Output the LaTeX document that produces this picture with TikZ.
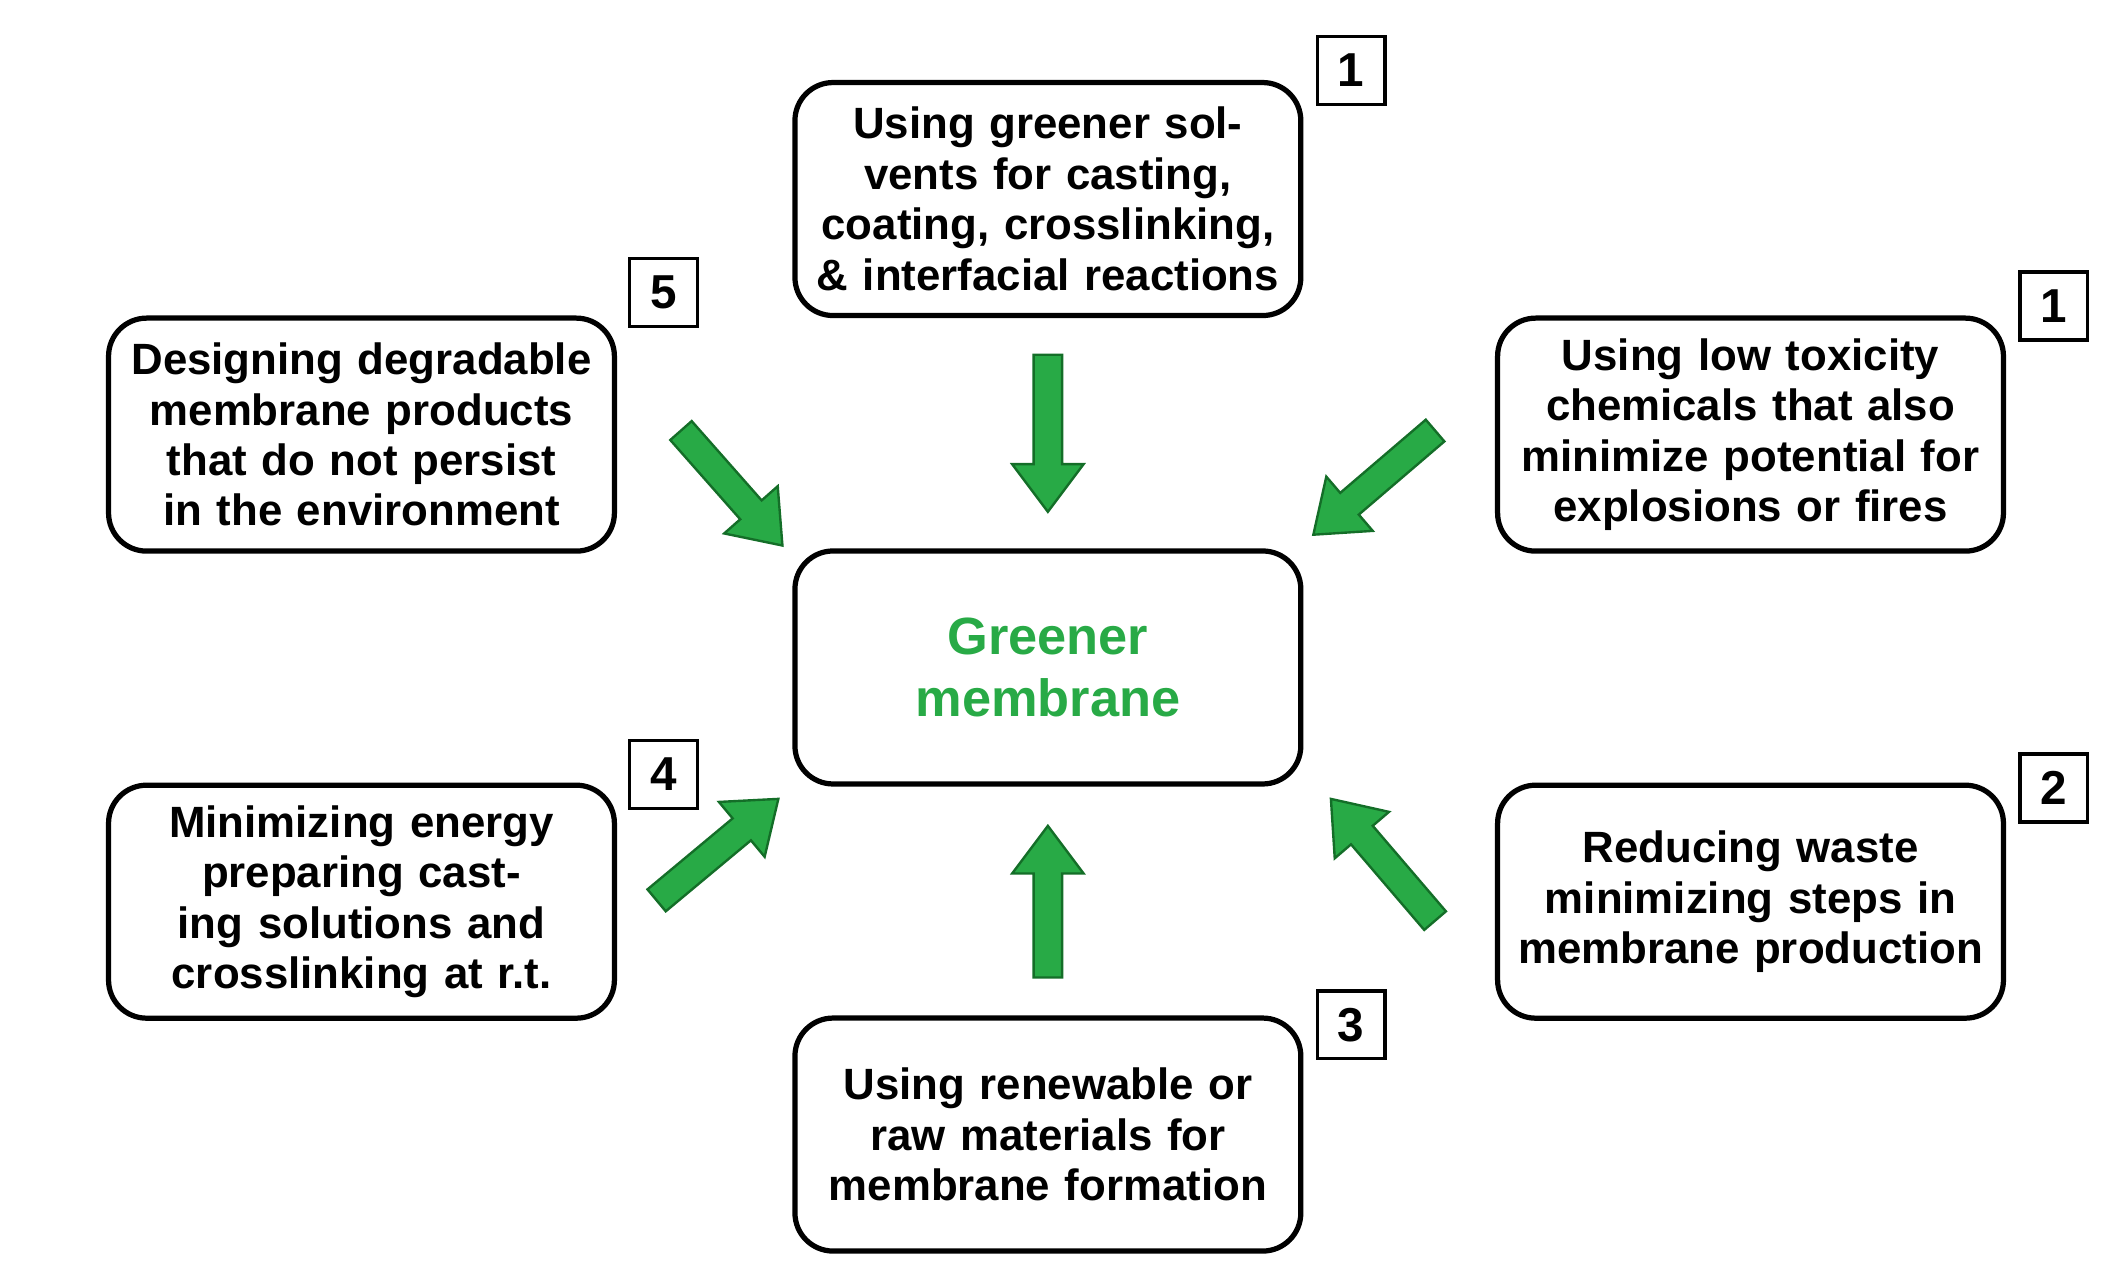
\documentclass[tikz,border=0pt]{standalone}
\usepackage{fontspec}
\setmainfont{Liberation Sans}
\usetikzlibrary{arrows.meta,calc}
\definecolor{gm}{RGB}{40,170,70}
\definecolor{gmd}{RGB}{20,110,40}
\begin{document}
\begin{tikzpicture}[x=0.01cm,y=-0.01cm,
 box/.style={draw,line width=1.1pt,rounded corners=8pt,minimum width=3.71cm,minimum height=1.72cm,text width=3.5cm,align=center,font=\bfseries\fontsize{9.2}{10.6}\selectfont},
 num/.style={draw,line width=0.7pt,minimum size=0.5cm,inner sep=0pt,font=\bfseries\fontsize{10}{12}\selectfont},
 arr/.style={draw=gmd,line width=0.5pt,fill=gm}]
\useasboundingbox (0,0) rectangle (1560,950);
\node[box] (t) at (774,147) {Using greener solvents for casting, coating, crosslinking, \& interfacial reactions};
\node[box] (lt) at (267,321) {Designing degradable membrane products that do not persist in the environment};
\node[box] (rt) at (1293,321) {Using low toxicity chemicals that also minimize potential for explosions or fires};
\node[box,text=gm,font=\bfseries\fontsize{11}{13}\selectfont] (c) at (774,493) {Greener membrane};
\node[box] (lb) at (267,666) {Minimizing energy preparing casting solutions and crosslinking at r.t.};
\node[box] (rb) at (1293,666) {Reducing waste minimizing steps in membrane production};
\node[box] (b) at (774,838) {Using renewable or raw materials for membrane formation};
\node[num] (n1) at (998,52) {1};
\node[num] (n5) at (490,216) {5};
\node[num] (n1b) at (1517,226) {1};
\node[num] (n4) at (490,572) {4};
\node[num] (n2) at (1517,582) {2};
\node[num] (n3) at (998,757) {3};
\foreach \sx/\sy/\ex/\ey in {774/262/774/378, 503/318/578/403, 1060/318/970/395, 485/665/575/590, 774/722/774/610, 1060/680/983/590}{
 \coordinate (s) at (\sx,\sy);
 \coordinate (e) at (\ex,\ey);
 \draw[arr] let \p1=(s), \p2=(e), \n1={atan2(\y2-\y1,\x2-\x1)}, \n2={veclen(\x2-\x1,\y2-\y1)} in
  [shift={(s)},rotate=\n1]
  (0pt,-3pt) -- (\n2-10pt,-3pt) -- (\n2-10pt,-7.5pt) -- (\n2,0pt) -- (\n2-10pt,7.5pt) -- (\n2-10pt,3pt) -- (0pt,3pt) -- cycle;
}
\end{tikzpicture}
\end{document}
